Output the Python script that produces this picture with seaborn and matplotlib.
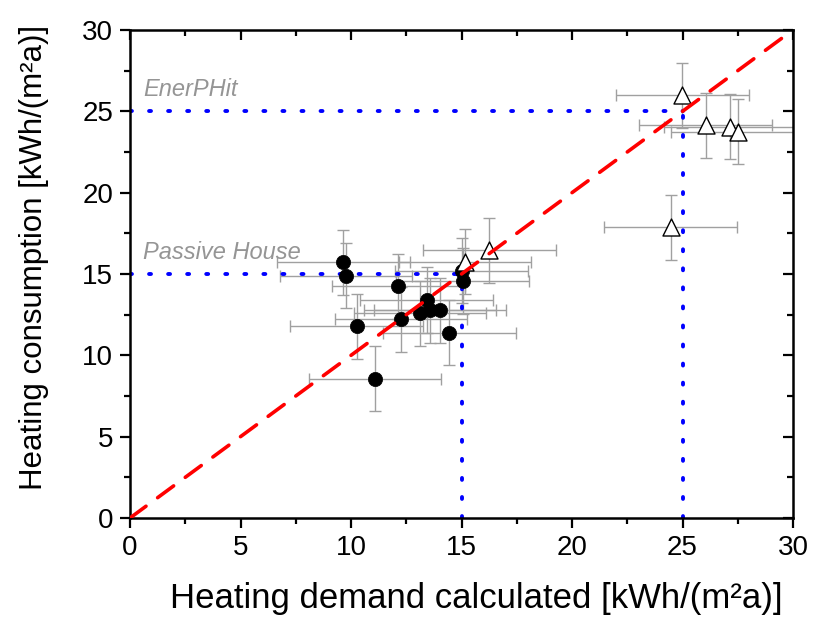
import numpy as np
import pandas as pd
import matplotlib
matplotlib.use("Agg")
import matplotlib.pyplot as plt
import seaborn as sns
from matplotlib.ticker import MultipleLocator

# Passive House buildings (filled circles)
ph_demand = [9.65, 9.77, 10.26, 11.09, 12.14, 12.26, 13.12, 13.42, 13.57, 14.03, 14.45, 15.0, 15.05]
ph_consumption = [15.72, 14.89, 11.8, 8.56, 14.26, 12.21, 12.58, 13.4, 12.78, 12.78, 11.39, 15.2, 14.57]
ph_xerr = [3, 3, 3, 3, 3, 3, 3, 3, 3, 3, 3, 3, 3]
ph_yerr = [2, 2, 2, 2, 2, 2, 2, 2, 2, 2, 2, 2, 2]

# EnerPHit buildings (open triangles)
ep_demand = [15.16, 16.26, 24.99, 26.05, 27.15, 27.5, 24.46]
ep_consumption = [15.75, 16.47, 26.0, 24.15, 24.05, 23.74, 17.87]
ep_xerr = [3, 3, 3, 3, 3, 3, 3]
ep_yerr = [2, 2, 2, 2, 2, 2, 2]

# Standard limits
limit_values = [15, 25]
limit_labels = ["Passive House", "EnerPHit"]

x_ticks = [0, 5, 10, 15, 20, 25, 30]
y_ticks = [0, 5, 10, 15, 20, 25, 30]

sns.set_style("ticks")
plt.rcParams['font.family'] = ['Liberation Sans', 'DejaVu Sans']
plt.rcParams['text.color'] = 'black'
plt.rcParams['axes.labelcolor'] = 'black'

fig = plt.figure(figsize=(8.14, 6.19), dpi=100)
ax = fig.add_axes([130/814, 1-518/619, (793-130)/814, (518-30)/619])

df_ph = pd.DataFrame({"demand": ph_demand, "consumption": ph_consumption})
df_ep = pd.DataFrame({"demand": ep_demand, "consumption": ep_consumption})

err_col = "#a0a0a0"
ax.errorbar(ph_demand, ph_consumption, xerr=ph_xerr, yerr=ph_yerr, fmt="none",
            ecolor=err_col, elinewidth=1.0, capsize=4, capthick=1.0, zorder=2)
ax.errorbar(ep_demand, ep_consumption, xerr=ep_xerr, yerr=ep_yerr, fmt="none",
            ecolor=err_col, elinewidth=1.0, capsize=4, capthick=1.0, zorder=2)

# limit lines (blue dotted)
for v in limit_values:
    ax.plot([0, v], [v, v], color="#0000ff", lw=2.8, linestyle=(0, (0.5, 4.4)),
            dash_capstyle="round", zorder=2.5)
    ax.plot([v, v], [0, v], color="#0000ff", lw=2.8, linestyle=(0, (0.5, 4.4)),
            dash_capstyle="round", zorder=2.5)

sns.scatterplot(data=df_ph, x="demand", y="consumption", ax=ax, marker="o", s=105,
                color="black", edgecolor="black", linewidth=0.5, zorder=3, legend=False)
sns.scatterplot(data=df_ep, x="demand", y="consumption", ax=ax, marker="^", s=150,
                facecolor="white", edgecolor="black", linewidth=1.0, zorder=3, legend=False)

# 1:1 line (red dashed)
ax.plot([0, 30], [0, 30], color="#ff0000", lw=2.6, linestyle=(0, (5.5, 4.0)),
        dash_capstyle="round", zorder=4)

for v, lab in zip(limit_values, limit_labels):
    ax.text(0.6, v + 0.95, lab, fontsize=17, style="italic", color="#959595",
            ha="left", va="baseline")

ax.set_xlim(0, 30)
ax.set_ylim(0, 30)
ax.set_xticks(x_ticks)
ax.set_yticks(y_ticks)
ax.xaxis.set_minor_locator(MultipleLocator(2.5))
ax.yaxis.set_minor_locator(MultipleLocator(2.5))
ax.tick_params(which="major", direction="out", length=7, width=1.6, labelsize=20,
               colors="black", labelcolor="black", pad=5)
ax.tick_params(which="minor", direction="out", length=4.5, width=1.6, colors="black")
ax.tick_params(which="both", top=True, right=True)
for t in ax.xaxis.get_major_ticks() + ax.xaxis.get_minor_ticks():
    t.tick2line.set_marker(matplotlib.lines.TICKDOWN)
for t in ax.yaxis.get_major_ticks() + ax.yaxis.get_minor_ticks():
    t.tick2line.set_marker(matplotlib.lines.TICKLEFT)

for sp in ax.spines.values():
    sp.set_linewidth(1.8)
    sp.set_color("black")
    sp.set_visible(True)

ax.set_xlabel("Heating demand calculated [kWh/(m²a)]", fontsize=25, color="black")
ax.set_ylabel("Heating consumption [kWh/(m²a)]", fontsize=22.5, color="black")
ax.xaxis.set_label_coords(0.523, -0.132)
ax.yaxis.set_label_coords(-0.122, 0.533)

fig.savefig("out.png", dpi=100)
